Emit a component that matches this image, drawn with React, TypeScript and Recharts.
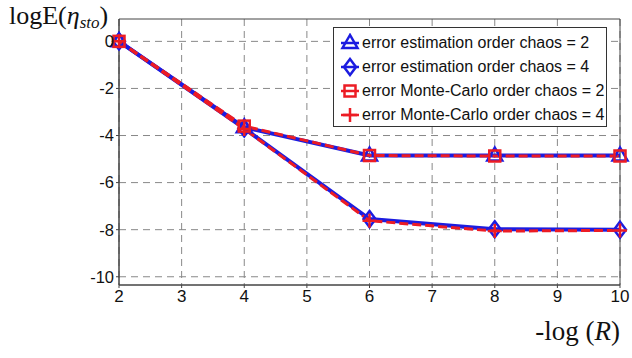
import {
  LineChart,
  Line,
  XAxis,
  YAxis,
  CartesianGrid,
  ReferenceArea,
} from "recharts";

const xValues = [2, 4, 6, 8, 10];
const estOrder2 = [0, -3.65, -4.85, -4.85, -4.85];
const estOrder4 = [0, -3.7, -7.55, -7.98, -8.0];
const mcOrder2 = [0, -3.6, -4.85, -4.87, -4.87];
const mcOrder4 = [0, -3.72, -7.62, -8.06, -8.03];

const xTicks = [2, 3, 4, 5, 6, 7, 8, 9, 10];
const yTicks = [-10, -8, -6, -4, -2, 0];

const seriesNames = [
  "error estimation order chaos = 2",
  "error estimation order chaos = 4",
  "error Monte-Carlo order chaos = 2",
  "error Monte-Carlo order chaos = 4",
];

const data = xValues.map((x, i) => ({
  x,
  est2: estOrder2[i],
  est4: estOrder4[i],
  mc2: mcOrder2[i],
  mc4: mcOrder4[i],
}));

const BLUE = "#1c1ce0";
const RED = "#ec1c24";
const SANS = "'Liberation Sans', Arial, sans-serif";
const SERIF = "'Liberation Serif', 'Times New Roman', serif";

function markerShape(kind: string, cx: number, cy: number, key?: any) {
  if (kind === "triangle") {
    return (
      <polygon
        key={key}
        points={`${cx},${cy - 8} ${cx - 7.5},${cy + 5} ${cx + 7.5},${cy + 5}`}
        fill="none"
        stroke={BLUE}
        strokeWidth={2.5}
      />
    );
  }
  if (kind === "diamond") {
    return (
      <polygon
        key={key}
        points={`${cx},${cy - 8} ${cx + 6},${cy} ${cx},${cy + 8} ${cx - 6},${cy}`}
        fill="none"
        stroke={BLUE}
        strokeWidth={2.5}
      />
    );
  }
  if (kind === "square") {
    return (
      <rect
        key={key}
        x={cx - 5.5}
        y={cy - 5.5}
        width={11}
        height={11}
        fill="none"
        stroke={RED}
        strokeWidth={2.5}
      />
    );
  }
  return (
    <path
      key={key}
      d={`M${cx - 7},${cy}H${cx + 7}M${cx},${cy - 7}V${cy + 7}`}
      stroke={RED}
      strokeWidth={2.5}
      fill="none"
    />
  );
}

const dotFor = (kind: string) => (props: any) => {
  const { cx, cy, index } = props;
  if (cx == null || cy == null) return <g key={index} />;
  return markerShape(kind, cx, cy, index);
};

const legendKinds = ["triangle", "diamond", "square", "plus"];
const legendColors = [BLUE, BLUE, RED, RED];

function LegendBox() {
  return (
    <div
      style={{
        position: "absolute",
        left: 333,
        top: 27,
        border: "1px solid #333",
        background: "#fff",
        width: 274,
        height: 100,
        boxSizing: "border-box",
        padding: "3px 0 0 5px",
        fontFamily: SANS,
        fontSize: 16,
        color: "#111",
        whiteSpace: "nowrap",
      }}
    >
      {seriesNames.map((name, i) => (
        <div
          key={name}
          style={{ display: "flex", alignItems: "center", height: 24 }}
        >
          <svg width={22} height={20} style={{ marginRight: 1, flexShrink: 0 }}>
            <line
              x1={2}
              y1={10}
              x2={20}
              y2={10}
              stroke={legendColors[i]}
              strokeWidth={2.5}
            />
            {markerShape(legendKinds[i], 11, 10)}
          </svg>
          <span>{name}</span>
        </div>
      ))}
    </div>
  );
}

export default function App() {
  return (
    <div
      style={{
        position: "fixed",
        left: 0,
        top: 0,
        width: 632,
        height: 358,
        background: "#fff",
      }}
    >
      <LineChart
        width={632}
        height={358}
        data={data}
        margin={{ top: 19, right: 12, bottom: 43, left: 79 }}
      >
        <CartesianGrid
          stroke="#888"
          strokeDasharray="7 5"
          verticalValues={xTicks}
          horizontalValues={yTicks}
        />
        <XAxis
          dataKey="x"
          type="number"
          domain={[2, 10]}
          ticks={xTicks}
          height={30}
          stroke="#444"
          tickSize={3}
          tick={{ fill: "#111", fontSize: 17, fontFamily: SANS }}
        />
        <YAxis
          type="number"
          domain={[-10.35, 0.95]}
          ticks={yTicks}
          width={40}
          stroke="#444"
          tickSize={3}
          tick={{ fill: "#111", fontSize: 16.5, fontFamily: SANS }}
        />
        <ReferenceArea
          x1={2}
          x2={10}
          y1={-10.35}
          y2={0.95}
          fill="none"
          stroke="#444"
          strokeWidth={1}
        />
        <Line
          dataKey="est2"
          name={seriesNames[0]}
          stroke={BLUE}
          strokeWidth={4}
          dot={dotFor("triangle")}
          isAnimationActive={false}
        />
        <Line
          dataKey="est4"
          name={seriesNames[1]}
          stroke={BLUE}
          strokeWidth={4}
          dot={dotFor("diamond")}
          isAnimationActive={false}
        />
        <Line
          dataKey="mc2"
          name={seriesNames[2]}
          stroke={RED}
          strokeWidth={3}
          strokeDasharray="9 4"
          dot={dotFor("square")}
          isAnimationActive={false}
        />
        <Line
          dataKey="mc4"
          name={seriesNames[3]}
          stroke={RED}
          strokeWidth={3}
          strokeDasharray="9 4"
          dot={dotFor("plus")}
          isAnimationActive={false}
        />
      </LineChart>
      <LegendBox />
      <div
        style={{
          position: "absolute",
          left: 9,
          top: 1,
          fontFamily: SERIF,
          fontSize: 26,
          lineHeight: "30px",
          color: "#111",
          whiteSpace: "nowrap",
        }}
      >
        logE(<i>η</i>
        <sub style={{ fontSize: 17, fontStyle: "italic", verticalAlign: -4 }}>
          sto
        </sub>
        )
      </div>
      <div
        style={{
          position: "absolute",
          right: 12,
          top: 316,
          fontFamily: SERIF,
          fontSize: 27,
          color: "#111",
          whiteSpace: "nowrap",
        }}
      >
        -log (<i>R</i>)
      </div>
    </div>
  );
}
